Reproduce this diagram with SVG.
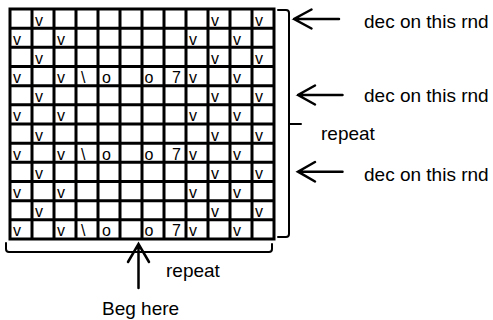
<svg xmlns="http://www.w3.org/2000/svg" width="493" height="320" viewBox="0 0 493 320">
<style>
.grid{fill:none;stroke:#000;stroke-width:3;stroke-linecap:square}
.c{font-family:"Liberation Sans",Arial,sans-serif;font-size:16px;fill:#000}
.lbl{font-family:"Liberation Sans",Arial,sans-serif;font-size:19px;fill:#000}
.ln{fill:none;stroke:#000;stroke-width:2;stroke-linecap:round;stroke-linejoin:round}
.ar{fill:none;stroke:#000;stroke-width:2.5;stroke-linecap:round;stroke-linejoin:miter}
</style>
<rect width="493" height="320" fill="#fff"/>
<g id="chart-grid">
<path class="grid" d="M10,9H274M10,28.17H274M10,47.33H274M10,66.5H274M10,85.67H274M10,104.83H274M10,124H274M10,143.17H274M10,162.33H274M10,181.5H274M10,200.67H274M10,219.83H274M10,239H274M10,9V239M32,9V239M54,9V239M76,9V239M98,9V239M120,9V239M142,9V239M164,9V239M186,9V239M208,9V239M230,9V239M252,9V239M274,9V239"/>
</g>
<g id="chart-symbols">
<g id="row1"><text class="c" x="35" y="25.5">v</text><text class="c" x="211" y="25.5">v</text><text class="c" x="255" y="25.5">v</text></g>
<g id="row2"><text class="c" x="13" y="44.7">v</text><text class="c" x="57" y="44.7">v</text><text class="c" x="189" y="44.7">v</text><text class="c" x="233" y="44.7">v</text></g>
<g id="row3"><text class="c" x="35" y="63.8">v</text><text class="c" x="211" y="63.8">v</text><text class="c" x="255" y="63.8">v</text></g>
<g id="row4"><text class="c" x="13" y="83">v</text><text class="c" x="57" y="83">v</text><text class="c" x="81" y="83">\</text><text class="c" x="102" y="83">o</text><text class="c" x="144.5" y="83">o</text><text class="c" x="172" y="83">7</text><text class="c" x="189" y="83">v</text><text class="c" x="233" y="83">v</text></g>
<g id="row5"><text class="c" x="35" y="102.2">v</text><text class="c" x="211" y="102.2">v</text><text class="c" x="255" y="102.2">v</text></g>
<g id="row6"><text class="c" x="13" y="121.3">v</text><text class="c" x="57" y="121.3">v</text><text class="c" x="189" y="121.3">v</text><text class="c" x="233" y="121.3">v</text></g>
<g id="row7"><text class="c" x="35" y="140.5">v</text><text class="c" x="211" y="140.5">v</text><text class="c" x="255" y="140.5">v</text></g>
<g id="row8"><text class="c" x="13" y="159.7">v</text><text class="c" x="57" y="159.7">v</text><text class="c" x="81" y="159.7">\</text><text class="c" x="102" y="159.7">o</text><text class="c" x="144.5" y="159.7">o</text><text class="c" x="172" y="159.7">7</text><text class="c" x="189" y="159.7">v</text><text class="c" x="233" y="159.7">v</text></g>
<g id="row9"><text class="c" x="35" y="178.8">v</text><text class="c" x="211" y="178.8">v</text><text class="c" x="255" y="178.8">v</text></g>
<g id="row10"><text class="c" x="13" y="198">v</text><text class="c" x="57" y="198">v</text><text class="c" x="189" y="198">v</text><text class="c" x="233" y="198">v</text></g>
<g id="row11"><text class="c" x="35" y="217.2">v</text><text class="c" x="211" y="217.2">v</text><text class="c" x="255" y="217.2">v</text></g>
<g id="row12"><text class="c" x="13" y="236.3">v</text><text class="c" x="57" y="236.3">v</text><text class="c" x="81" y="236.3">\</text><text class="c" x="102" y="236.3">o</text><text class="c" x="144.5" y="236.3">o</text><text class="c" x="172" y="236.3">7</text><text class="c" x="189" y="236.3">v</text><text class="c" x="233" y="236.3">v</text></g>
</g>
<g id="brackets">
<path class="ln" d="M278,10H286Q289,10 289,13V234Q289,237 286,237H278M289,124H301"/>
<path class="ln" d="M6,243V249Q6,252 9,252H269Q272,252 272,249V244"/>
</g>
<g id="connectors">
<path class="ar" d="M294,19H339M311.5,9.5L294,19L311.5,28.5"/>
<path class="ar" d="M298,95H342.5M315,85.5L298,95L315,104.5"/>
<path class="ar" d="M298,171.7H342.5M315,162L298,171.7L315,181.5"/>
<path class="ar" d="M138.5,288V245M128,262L138.5,244L149,262"/>
</g>
<g id="label-dec1"><text class="lbl" x="364" y="27.7">dec on this rnd</text></g>
<g id="label-dec2"><text class="lbl" x="364" y="102">dec on this rnd</text></g>
<g id="label-dec3"><text class="lbl" x="364" y="181">dec on this rnd</text></g>
<g id="label-repeat-right"><text class="lbl" x="321" y="140">repeat</text></g>
<g id="label-repeat-bottom"><text class="lbl" x="166" y="277">repeat</text></g>
<g id="label-beg"><text class="lbl" x="102" y="315">Beg here</text></g>
</svg>
